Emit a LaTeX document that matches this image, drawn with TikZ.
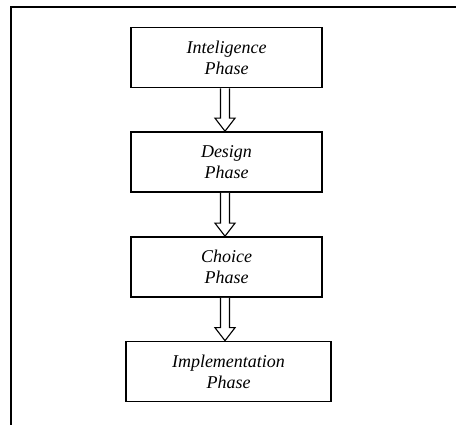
\documentclass[tikz,border=0pt]{standalone}
\usepackage{fontspec}
\setmainfont{Liberation Serif}
\usetikzlibrary{calc}
\begin{document}
\begin{tikzpicture}[x=1pt,y=-1pt,
  phasebox/.style={draw=black,line width=1.6pt,minimum height=60pt,align=center,
    font=\fontsize{18}{21}\selectfont\itshape,inner sep=0pt},
  blockarrow/.style={draw=black,line width=1.1pt,fill=white,line join=miter}]
\useasboundingbox (0,0) rectangle (456,425);
\draw[line width=2pt] (456,7) -- (11,7) -- (11,425);
\node[phasebox,minimum width=191pt] (a) at (226.5,57.5) {Inteligence\\Phase};
\node[phasebox,minimum width=191pt] (b) at (226.5,162) {Design\\Phase};
\node[phasebox,minimum width=191pt] (c) at (226.5,267) {Choice\\Phase};
\node[phasebox,minimum width=205pt] (d) at (228.5,371.5) {Implementation\\Phase};
\foreach \s/\t in {a/b,b/c,c/d}{
  \draw[blockarrow] let \p1=($(\s.south)+(-1.5,0)$), \p2=(\t.north) in
    (\x1-4.5pt,\y1) -- (\x1-4.5pt,\y2+13pt) -- (\x1-10pt,\y2+13pt) -- (\x1,\y2)
    -- (\x1+10pt,\y2+13pt) -- (\x1+4.5pt,\y2+13pt) -- (\x1+4.5pt,\y1);
}
\end{tikzpicture}
\end{document}
